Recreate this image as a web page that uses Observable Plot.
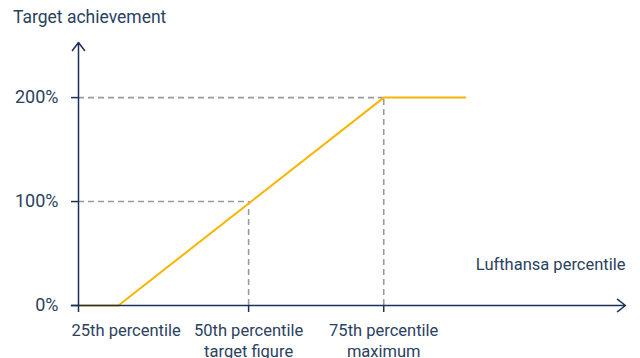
<!DOCTYPE html>
<html><head><meta charset="utf-8">
<script src="https://cdn.jsdelivr.net/npm/d3@7"></script>
<script src="https://cdn.jsdelivr.net/npm/@observablehq/plot@0.6"></script>
<style>
body{margin:0;background:#fff;font-family:Roboto,sans-serif;}
#title{height:30px;line-height:34px;padding-left:13px;font-size:17.5px;color:#2b4160;font-weight:400;}
</style></head><body>
<div id="title">Target achievement</div>
<div id="chart"></div>
<script>
const xTickPos = [0, 31.1, 55.8];
const xTickLabels = ["25th percentile", "50th percentile\ntarget figure", "75th percentile\nmaximum"];
const yTickPos = [0, 100, 200];
const yTickLabels = ["0%", "100%", "200%"];
const curveX = [0, 7.3, 55.8, 70.7];
const curveY = [0, 0, 200, 200];
const guideX = [31.1, 55.8];
const guideY = [100, 200];
const xAxisTitle = "Lufthansa percentile";
const xMax = 100, yMax = 253, xStart = -1.3;

const navy = "#1b3257", textC = "#2b4160", gray = "#9a9a9a", yellow = "#f8b500";
const curve = curveX.map((x, i) => ({x, y: curveY[i]}));
const guides = guideX.map((x, i) => ({x, y: guideY[i]}));
const xt = xTickPos.map((v, i) => ({v, label: xTickLabels[i]}));
const axesLines = [
  {x1: xStart, y1: 0, x2: xMax, y2: 0},
  {x1: 0, y1: 0, x2: 0, y2: yMax}
];

try {
const chart = Plot.plot({
  width: 640, height: 328,
  marginLeft: 78, marginRight: 15, marginTop: 12, marginBottom: 53,
  style: {fontFamily: "Roboto, sans-serif", color: textC, background: "#fff"},
  x: {type: "linear", domain: [0, xMax], axis: null},
  y: {type: "linear", domain: [0, yMax], axis: null},
  marks: [
    Plot.ruleY(guides, {y: "y", x1: 0, x2: "x", stroke: gray, strokeWidth: 1.6, strokeDasharray: "6,4"}),
    Plot.ruleX(guides, {x: "x", y1: 0, y2: "y", stroke: gray, strokeWidth: 1.6, strokeDasharray: "6,4"}),
    Plot.axisY(yTickPos, {tickSize: 7, tickPadding: 13, tickFormat: (d, i) => yTickLabels[i], label: null, stroke: navy, strokeWidth: 1.5, strokeOpacity: 1, fontSize: 18, fill: textC}),
    Plot.line(curve, {x: "x", y: "y", stroke: yellow, strokeWidth: 2}),
    Plot.arrow(axesLines, {x1: "x1", y1: "y1", x2: "x2", y2: "y2", stroke: navy, strokeWidth: 1.5, headLength: 10, headAngle: 75}),
    Plot.axisX(xTickPos, {tickSize: 7, text: null, label: null, stroke: navy, strokeWidth: 1.5, strokeOpacity: 1}),
    Plot.text(xt.slice(0, 1), {x: "v", y: () => 0, text: "label", dx: -7, dy: 15, textAnchor: "start", lineAnchor: "top", fontSize: 16.5, lineHeight: 1.28, fill: textC}),
    Plot.text(xt.slice(1), {x: "v", y: () => 0, text: "label", dy: 15, textAnchor: "middle", lineAnchor: "top", fontSize: 16.5, lineHeight: 1.28, fill: textC}),
    Plot.text([xAxisTitle], {frameAnchor: "bottom-right", text: d => d, dy: -36, textAnchor: "end", fontSize: 16.5, fill: textC})
  ]
});
document.getElementById("chart").appendChild(chart);
} catch (e) { document.getElementById("chart").textContent = "ERR " + e.message; }
</script>
</body></html>
